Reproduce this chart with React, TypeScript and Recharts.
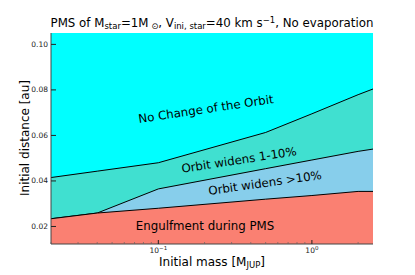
import React from 'react';
import { ComposedChart, Area, XAxis, YAxis } from 'recharts';

const masses = [0.02, 0.04, 0.1, 0.5, 1, 2, 2.5];
const engulfTop = [0.0234, 0.0259, 0.028, 0.032, 0.0336, 0.0354, 0.0354];
const widenBigTop = [0.0234, 0.0259, 0.0365, 0.0454, 0.0492, 0.053, 0.054];
const widenSmallTop = [0.0415, 0.0443, 0.048, 0.0613, 0.0695, 0.0779, 0.0804];
const noChangeTop = [0.105, 0.105, 0.105, 0.105, 0.105, 0.105, 0.105];

const yTicks = [0.02, 0.04, 0.06, 0.08, 0.1];
const yTickLabels = ['0.02', '0.04', '0.06', '0.08', '0.10'];
const xMajor = [0.1, 1];
const xMajorExp = ['−1', '0'];
const xMinor = [0.02, 0.03, 0.04, 0.05, 0.06, 0.07, 0.08, 0.09, 0.2, 0.3, 0.4, 0.5, 0.6, 0.7, 0.8, 0.9, 2];

const data = masses.map((m, i) => ({
  mass: m,
  engulf: engulfTop[i],
  big: widenBigTop[i],
  small: widenSmallTop[i],
  none: noChangeTop[i],
}));

const FONT = '"DejaVu Sans", sans-serif';
const LEFT = 51;
const BOTTOM = 244;

function YTick(props: any) {
  const { y, payload } = props;
  const idx = yTicks.indexOf(payload.value);
  return (
    <g>
      <line x1={LEFT} x2={LEFT + 5} y1={y} y2={y} stroke='#222' strokeWidth={1} />
      <text x={LEFT - 3} y={y} textAnchor='end' dominantBaseline='central' fontSize={7.5} fontFamily={FONT} fill='#222'>
        {idx >= 0 ? yTickLabels[idx] : ''}
      </text>
    </g>
  );
}

function XTick(props: any) {
  const { x, payload } = props;
  const idx = xMajor.indexOf(payload.value);
  if (idx < 0) {
    return <line x1={x} x2={x} y1={BOTTOM} y2={BOTTOM - 2} stroke='#666' strokeWidth={0.7} />;
  }
  return (
    <g>
      <line x1={x} x2={x} y1={BOTTOM} y2={BOTTOM - 4} stroke='#222' strokeWidth={1} />
      <text x={x} y={BOTTOM + 9} textAnchor='middle' fontSize={7.5} fontFamily={FONT} fill='#222'>
        10<tspan fontSize={5.5} dy={-3}>{xMajorExp[idx]}</tspan>
      </text>
    </g>
  );
}

export default function App() {
  return (
    <div style={{ position: 'absolute', left: 0, top: 0, width: 415, height: 275, background: '#fff' }}>
      <ComposedChart width={415} height={275} data={data} margin={{ top: 33, right: 42, left: 0, bottom: 0 }}>
        <XAxis
          dataKey='mass'
          type='number'
          scale='log'
          domain={[0.02, 2.5]}
          allowDataOverflow
          ticks={[...xMinor, ...xMajor].sort((a, b) => a - b)}
          tick={<XTick />}
          tickLine={false}
          axisLine={{ stroke: '#444', strokeWidth: 1 }}
          height={31}
          interval={0}
        />
        <XAxis xAxisId='top' orientation='top' dataKey='mass' type='number' scale='log' domain={[0.02, 2.5]} allowDataOverflow tick={false} tickLine={false} axisLine={{ stroke: '#444', strokeWidth: 1 }} height={0} />
        <YAxis
          type='number'
          domain={[0.0123, 0.105]}
          allowDataOverflow
          ticks={yTicks}
          tick={<YTick />}
          tickLine={false}
          axisLine={{ stroke: '#444', strokeWidth: 1 }}
          width={51}
          interval={0}
        />
        <YAxis yAxisId='right' orientation='right' type='number' domain={[0.0123, 0.105]} tick={false} tickLine={false} axisLine={{ stroke: '#444', strokeWidth: 1 }} width={0} />
        <Area type='linear' dataKey='none' fill='#00ffff' fillOpacity={1} stroke='none' baseValue='dataMin' isAnimationActive={false} />
        <Area type='linear' dataKey='small' fill='#40e0d0' fillOpacity={1} stroke='#000' strokeWidth={1} baseValue='dataMin' isAnimationActive={false} />
        <Area type='linear' dataKey='big' fill='#87ceeb' fillOpacity={1} stroke='#000' strokeWidth={1} baseValue='dataMin' isAnimationActive={false} />
        <Area type='linear' dataKey='engulf' fill='#fa8072' fillOpacity={1} stroke='#000' strokeWidth={1} baseValue='dataMin' isAnimationActive={false} />
      </ComposedChart>
      <svg width={415} height={275} style={{ position: 'absolute', left: 0, top: 0, pointerEvents: 'none' }}>
        <g fontFamily={FONT} fill='#000'>
          <text x={212} y={27} textAnchor='middle' fontSize={11.8}>
            PMS of M<tspan fontSize={8.5} dy={2}>star</tspan>
            <tspan dy={-2}>=1M</tspan>
            <tspan fontSize={8.5} dy={2}> ⊙</tspan>
            <tspan dy={-2}>, V</tspan>
            <tspan fontSize={8.5} dy={2}>ini, star</tspan>
            <tspan dy={-2}>=40 km s</tspan>
            <tspan fontSize={8.5} dy={-4}>−1</tspan>
            <tspan dy={4}>, No evaporation</tspan>
          </text>
          <text x={212} y={266} textAnchor='middle' fontSize={12}>
            Initial mass [M<tspan fontSize={8.5} dy={2}>JUP</tspan>
            <tspan dy={-2}>]</tspan>
          </text>
          <text x={0} y={0} transform='translate(29,138) rotate(-90)' textAnchor='middle' fontSize={12}>
            Initial distance [au]
          </text>
          <text x={0} y={0} transform='translate(206,109) rotate(-8.4)' textAnchor='middle' dominantBaseline='central' fontSize={11.8}>
            No Change of the Orbit
          </text>
          <text x={0} y={0} transform='translate(239,160) rotate(-8.8)' textAnchor='middle' dominantBaseline='central' fontSize={11.8}>
            Orbit widens 1-10%
          </text>
          <text x={0} y={0} transform='translate(265,183) rotate(-8.2)' textAnchor='middle' dominantBaseline='central' fontSize={11.8}>
            Orbit widens &gt;10%
          </text>
          <text x={205} y={226} textAnchor='middle' dominantBaseline='central' fontSize={11.8}>
            Engulfment during PMS
          </text>
        </g>
      </svg>
    </div>
  );
}
